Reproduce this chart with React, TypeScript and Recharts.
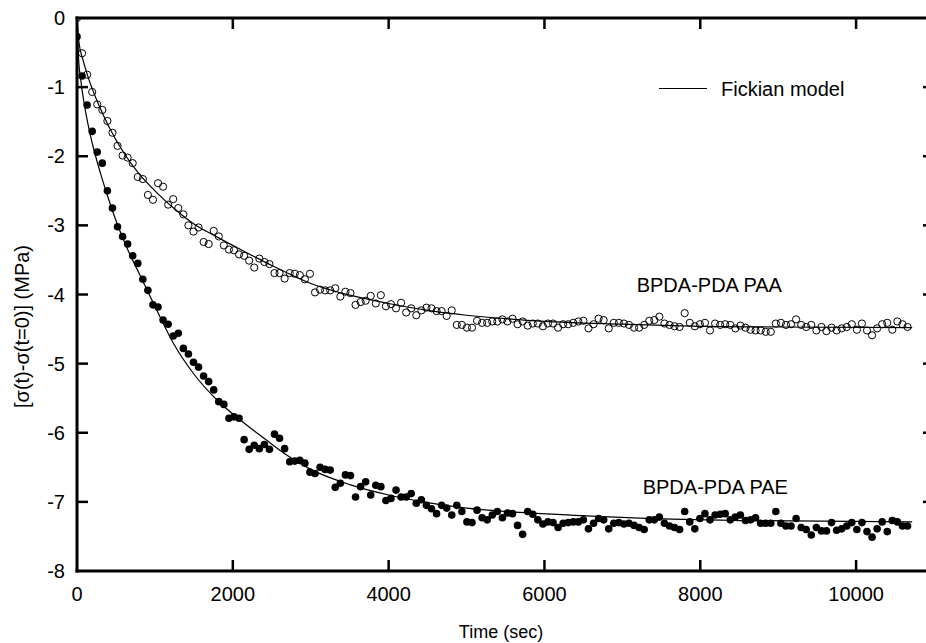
import { ComposedChart, XAxis, YAxis, Scatter, Line, Legend, ReferenceDot } from 'recharts'

// sampling times (sec), shared by both films
const times = [
  0, 65, 130, 195, 260, 325, 390, 455, 520, 585, 650, 715, 780, 845, 910, 975, 1040, 1105, 1170, 1235,
  1300, 1365, 1430, 1495, 1560, 1625, 1690, 1755, 1820, 1885, 1950, 2015, 2080, 2145, 2210, 2275, 2340, 2405, 2470, 2535,
  2600, 2665, 2730, 2795, 2860, 2925, 2990, 3055, 3120, 3185, 3250, 3315, 3380, 3445, 3510, 3575, 3640, 3705, 3770, 3835,
  3900, 3965, 4030, 4095, 4160, 4225, 4290, 4355, 4420, 4485, 4550, 4615, 4680, 4745, 4810, 4875, 4940, 5005, 5070, 5135,
  5200, 5265, 5330, 5395, 5460, 5525, 5590, 5655, 5720, 5785, 5850, 5915, 5980, 6045, 6110, 6175, 6240, 6305, 6370, 6435,
  6500, 6565, 6630, 6695, 6760, 6825, 6890, 6955, 7020, 7085, 7150, 7215, 7280, 7345, 7410, 7475, 7540, 7605, 7670, 7735,
  7800, 7865, 7930, 7995, 8060, 8125, 8190, 8255, 8320, 8385, 8450, 8515, 8580, 8645, 8710, 8775, 8840, 8905, 8970, 9035,
  9100, 9165, 9230, 9295, 9360, 9425, 9490, 9555, 9620, 9685, 9750, 9815, 9880, 9945, 10010, 10075, 10140, 10205, 10270, 10335,
  10400, 10465, 10530, 10595, 10660,
]

// BPDA-PDA PAA (open circles)
const paaStress = [
  0, -0.51, -0.82, -1.07, -1.25, -1.33, -1.49, -1.66, -1.85, -1.99, -2.02, -2.10, -2.30, -2.33, -2.56, -2.63, -2.39, -2.44, -2.70, -2.62,
  -2.75, -2.84, -3.00, -3.09, -3.03, -3.24, -3.27, -3.08, -3.16, -3.29, -3.35, -3.36, -3.42, -3.44, -3.51, -3.61, -3.48, -3.53, -3.56, -3.69,
  -3.69, -3.77, -3.69, -3.70, -3.72, -3.78, -3.70, -3.97, -3.93, -3.94, -3.94, -3.91, -4.03, -3.96, -3.98, -4.15, -4.11, -4.09, -4.02, -4.13,
  -4.01, -4.17, -4.14, -4.20, -4.12, -4.26, -4.20, -4.30, -4.23, -4.19, -4.20, -4.24, -4.24, -4.31, -4.23, -4.44, -4.44, -4.48, -4.48, -4.38,
  -4.41, -4.41, -4.39, -4.39, -4.36, -4.39, -4.35, -4.43, -4.39, -4.45, -4.42, -4.42, -4.46, -4.42, -4.42, -4.48, -4.43, -4.43, -4.41, -4.39,
  -4.38, -4.49, -4.43, -4.35, -4.37, -4.49, -4.41, -4.41, -4.42, -4.44, -4.48, -4.48, -4.44, -4.38, -4.37, -4.32, -4.42, -4.44, -4.46, -4.47,
  -4.27, -4.41, -4.46, -4.43, -4.41, -4.52, -4.42, -4.44, -4.43, -4.44, -4.49, -4.45, -4.48, -4.51, -4.52, -4.52, -4.54, -4.54, -4.42, -4.41,
  -4.44, -4.43, -4.36, -4.44, -4.47, -4.44, -4.52, -4.47, -4.53, -4.48, -4.52, -4.49, -4.47, -4.43, -4.51, -4.42, -4.52, -4.59, -4.49, -4.43,
  -4.41, -4.51, -4.39, -4.43, -4.47,
]

// BPDA-PDA PAE (filled circles)
const paeStress = [
  -0.27, -0.84, -1.26, -1.64, -1.94, -2.10, -2.50, -2.75, -3.02, -3.16, -3.27, -3.44, -3.55, -3.78, -3.94, -4.15, -4.18, -4.37, -4.43, -4.60,
  -4.56, -4.78, -4.86, -4.98, -5.05, -5.18, -5.26, -5.38, -5.55, -5.59, -5.79, -5.77, -5.79, -6.10, -6.24, -6.18, -6.23, -6.17, -6.24, -6.02,
  -6.08, -6.23, -6.42, -6.41, -6.40, -6.44, -6.57, -6.59, -6.50, -6.53, -6.54, -6.79, -6.73, -6.61, -6.62, -6.93, -6.78, -6.71, -6.90, -6.76,
  -6.78, -6.98, -6.95, -6.83, -6.93, -6.93, -6.88, -7.02, -6.97, -7.05, -7.10, -7.17, -7.05, -7.09, -7.19, -7.05, -7.14, -7.29, -7.30, -7.12,
  -7.23, -7.26, -7.19, -7.14, -7.23, -7.16, -7.17, -7.34, -7.47, -7.14, -7.18, -7.26, -7.32, -7.29, -7.30, -7.37, -7.31, -7.30, -7.29, -7.29,
  -7.26, -7.39, -7.31, -7.24, -7.26, -7.39, -7.31, -7.30, -7.32, -7.31, -7.34, -7.37, -7.40, -7.26, -7.26, -7.22, -7.31, -7.35, -7.37, -7.40,
  -7.14, -7.29, -7.39, -7.24, -7.17, -7.26, -7.19, -7.18, -7.17, -7.26, -7.22, -7.19, -7.27, -7.26, -7.23, -7.31, -7.31, -7.31, -7.14, -7.31,
  -7.35, -7.35, -7.24, -7.37, -7.40, -7.48, -7.37, -7.42, -7.42, -7.30, -7.41, -7.39, -7.35, -7.30, -7.40, -7.30, -7.43, -7.51, -7.39, -7.29,
  -7.43, -7.27, -7.29, -7.35, -7.35,
]

// Fickian model curves
const paaModelTimes = [0, 25, 75, 150, 250, 400, 600, 800, 1000, 1250, 1500, 1800, 2100, 2500, 3000, 3500, 4000, 4500, 5000, 5500, 6000, 7000, 8000, 9000, 10720]
const paaModelStress = [0, -0.35, -0.6, -0.88, -1.18, -1.55, -1.95, -2.26, -2.5, -2.76, -2.98, -3.17, -3.35, -3.58, -3.84, -4.01, -4.13, -4.23, -4.3, -4.35, -4.39, -4.43, -4.46, -4.47, -4.48]
const paeModelTimes = [0, 20, 50, 100, 200, 300, 400, 500, 650, 800, 1000, 1250, 1500, 1800, 2100, 2400, 2700, 3000, 3500, 4000, 4500, 5000, 5800, 6500, 7300, 8500, 10720]
const paeModelStress = [0, -0.58, -0.91, -1.29, -1.83, -2.24, -2.6, -2.93, -3.35, -3.7, -4.17, -4.73, -5.15, -5.53, -5.82, -6.08, -6.33, -6.53, -6.75, -6.9, -7.01, -7.09, -7.16, -7.2, -7.24, -7.27, -7.29]

const xTicks = [0, 2000, 4000, 6000, 8000, 10000]
const yTicks = [0, -1, -2, -3, -4, -5, -6, -7, -8]

const X_MAX = 11000
const Y_MIN = -8
const Y_MAX = 0

const FONT = 'Arial, "Liberation Sans", Helvetica, sans-serif'

// layout
const CHART_W = 944
const CHART_H = 643
const MARGIN = { top: 18, right: 10, bottom: 0, left: 0 }
const Y_AXIS_W = 77
const X_AXIS_H = 72
const PLOT_W = CHART_W - MARGIN.left - MARGIN.right - Y_AXIS_W
const PLOT_H = CHART_H - MARGIN.top - MARGIN.bottom - X_AXIS_H
const TICK = 11

const paaPoints = times.map((t, i) => ({ t, v: paaStress[i] }))
const paePoints = times.map((t, i) => ({ t, v: paeStress[i] }))
const paaModel = paaModelTimes.map((t, i) => ({ t, v: paaModelStress[i] }))
const paeModel = paeModelTimes.map((t, i) => ({ t, v: paeModelStress[i] }))

const OpenDot = (props: any) => (
  <circle cx={props.cx} cy={props.cy} r={3.6} fill="none" stroke="#000" strokeWidth={1} />
)

const FilledDot = (props: any) => <circle cx={props.cx} cy={props.cy} r={3.8} fill="#000" />

// box frame, anchored at the (0, -8) corner
const Frame = ({ viewBox }: any) => {
  const { x, y } = viewBox
  return (
    <g stroke="#000" strokeWidth={3}>
      <line x1={x} y1={y + 1.5} x2={x} y2={y - PLOT_H - 1.5} />
      <line x1={x + PLOT_W} y1={y + 1.5} x2={x + PLOT_W} y2={y - PLOT_H - 1.5} />
      <line x1={x - 1.5} y1={y} x2={x + PLOT_W + 1.5} y2={y} />
      <line x1={x - 1.5} y1={y - PLOT_H} x2={x + PLOT_W + 1.5} y2={y - PLOT_H} />
    </g>
  )
}

// inward tick pair for an x value, anchored on the bottom edge
const XTickMark = ({ viewBox }: any) => {
  const { x, y } = viewBox
  return (
    <g stroke="#000" strokeWidth={2.5}>
      <line x1={x} y1={y} x2={x} y2={y - TICK} />
      <line x1={x} y1={y - PLOT_H} x2={x} y2={y - PLOT_H + TICK} />
    </g>
  )
}

// inward tick pair for a y value, anchored on the left edge
const YTickMark = ({ viewBox }: any) => {
  const { x, y } = viewBox
  return (
    <g stroke="#000" strokeWidth={2.5}>
      <line x1={x} y1={y} x2={x + TICK} y2={y} />
      <line x1={x + PLOT_W} y1={y} x2={x + PLOT_W - TICK} y2={y} />
    </g>
  )
}

const YTitle = ({ viewBox }: any) => {
  const x = viewBox.x + 29
  const y = viewBox.y + viewBox.height / 2 + 32
  return (
    <text x={x} y={y} transform={`rotate(-90 ${x} ${y})`} textAnchor="middle" fontSize={20} fontFamily={FONT} fill="#000">
      [σ(t)-σ(t=0)] (MPa)
    </text>
  )
}

const XTitle = ({ viewBox }: any) => (
  <text x={viewBox.x + 424} y={viewBox.y + 67} textAnchor="middle" fontSize={18} fontFamily={FONT} fill="#000">
    Time (sec)
  </text>
)

const SeriesTag = ({ viewBox, text }: any) => (
  <text x={viewBox.x} y={viewBox.y} fontSize={20} fontFamily={FONT} fill="#000">
    {text}
  </text>
)

const ModelKey = () => (
  <div style={{ display: 'flex', alignItems: 'center', fontFamily: FONT, fontSize: 20, lineHeight: '20px', color: '#000' }}>
    <svg width={49} height={4} style={{ display: 'block' }}>
      <line x1={0} y1={1.5} x2={48} y2={1.5} stroke="#000" strokeWidth={1} />
    </svg>
    <span style={{ marginLeft: 13, whiteSpace: 'nowrap' }}>Fickian model</span>
  </div>
)

const tickText = { fill: '#000', fontSize: 20, fontFamily: FONT }

export default function App() {
  const innerX = xTicks.filter((t) => t > 0)
  const innerY = yTicks.filter((v) => v > Y_MIN && v < Y_MAX)
  return (
    <div style={{ position: 'absolute', left: 0, top: 0, width: 926, height: 643, overflow: 'hidden', background: '#fff' }}>
      <ComposedChart width={CHART_W} height={CHART_H} margin={MARGIN}>
        <XAxis
          dataKey="t"
          type="number"
          domain={[0, X_MAX]}
          ticks={xTicks}
          interval={0}
          height={X_AXIS_H}
          tickSize={0}
          tickMargin={16}
          axisLine={false}
          tickLine={false}
          tick={tickText}
          allowDataOverflow
          label={<XTitle />}
        />
        <YAxis
          dataKey="v"
          type="number"
          domain={[Y_MIN, Y_MAX]}
          ticks={yTicks}
          interval={0}
          width={Y_AXIS_W}
          tickSize={0}
          tickMargin={12}
          axisLine={false}
          tickLine={false}
          tick={tickText}
          allowDataOverflow
          label={<YTitle />}
        />
        <Line data={paaModel} dataKey="v" type="monotone" stroke="#000" strokeWidth={1.2} dot={false} activeDot={false} isAnimationActive={false} />
        <Line data={paeModel} dataKey="v" type="monotone" stroke="#000" strokeWidth={1.2} dot={false} activeDot={false} isAnimationActive={false} />
        <Scatter data={paaPoints} dataKey="v" shape={OpenDot} isAnimationActive={false} />
        <Scatter data={paePoints} dataKey="v" shape={FilledDot} isAnimationActive={false} />
        <ReferenceDot x={0} y={Y_MIN} r={0} fill="none" stroke="none" ifOverflow="visible" label={<Frame />} />
        {innerX.map((t) => (
          <ReferenceDot key={`x${t}`} x={t} y={Y_MIN} r={0} fill="none" stroke="none" ifOverflow="visible" label={<XTickMark />} />
        ))}
        {innerY.map((v) => (
          <ReferenceDot key={`y${v}`} x={0} y={v} r={0} fill="none" stroke="none" ifOverflow="visible" label={<YTickMark />} />
        ))}
        <ReferenceDot x={7184} y={-3.97} r={0} fill="none" stroke="none" label={<SeriesTag text="BPDA-PDA PAA" />} />
        <ReferenceDot x={7261} y={-6.88} r={0} fill="none" stroke="none" label={<SeriesTag text="BPDA-PDA PAE" />} />
        <Legend
          layout="horizontal"
          verticalAlign="middle"
          align="center"
          content={<ModelKey />}
          wrapperStyle={{ left: 659, top: 79, width: 230, height: 20 }}
        />
      </ComposedChart>
    </div>
  )
}
